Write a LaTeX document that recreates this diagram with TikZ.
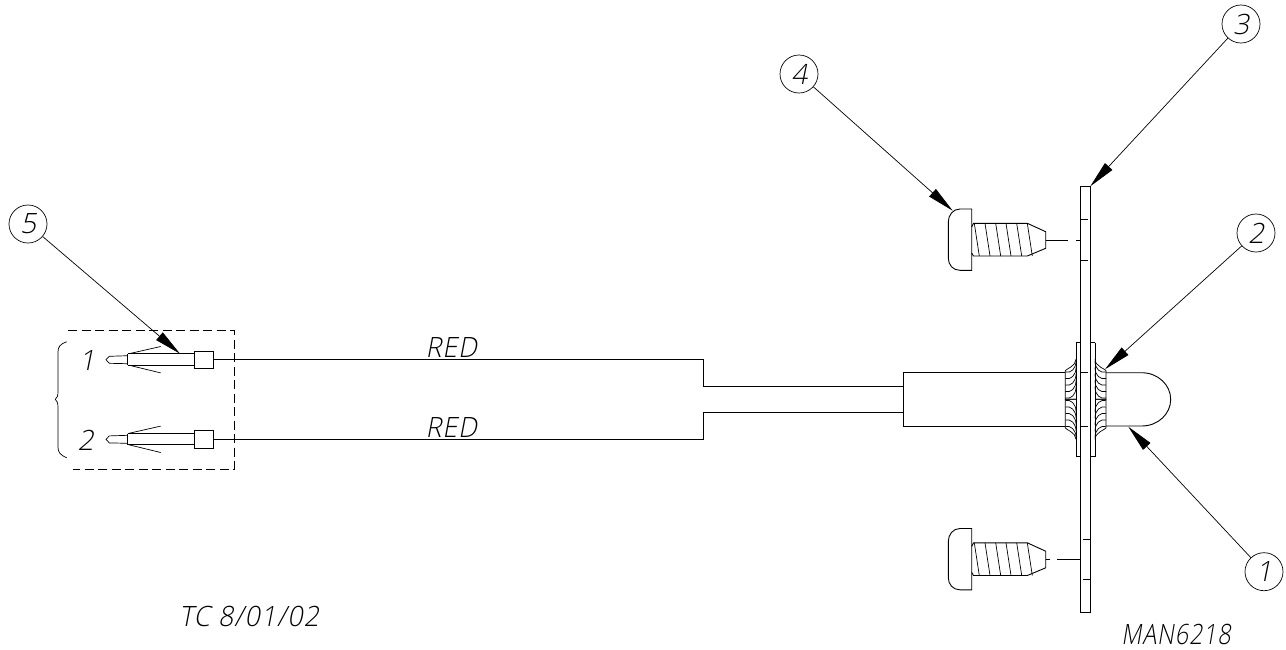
\documentclass[tikz,border=0pt]{standalone}
\usepackage{graphicx}
\usepackage{fontspec}
\setmainfont[FakeSlant=0.2,LetterSpace=4]{Open Sans Light}
\usetikzlibrary{arrows.meta}
\tikzset{
  x=1pt,y=-1pt,
  ln/.style={line width=0.9pt,black},
  fine/.style={line width=0.7pt,black},
  dashbox/.style={line width=0.8pt,black,dash pattern=on 9pt off 4.5pt},
  lead/.style={line width=0.7pt,black,-{Triangle[length=27pt,width=10pt]}},
  bubble/.style={circle,draw=black,line width=0.7pt,minimum size=38pt,inner sep=0pt,font=\fontsize{28}{28}\selectfont},
  lbl/.style={inner sep=0pt,font=\fontsize{28}{28}\selectfont},
}
\newcommand{\screwpart}[1]{%
\begin{scope}[shift={(0,#1)}]
\draw[ln] (971.7,-31) -- (960,-31) .. controls (953,-31) and (948.3,-25) .. (948.3,-18) -- (948.3,18) .. controls (948.3,25) and (953,30.3) .. (960,30.3) -- (971.7,30.3) -- cycle;
\draw[ln] (971.7,-13) -- (973.5,-16.7) -- (1027.3,-16.7) -- (1045.7,-8.3) -- (1045.7,8.3) -- (1027.3,16) -- (973.5,16) -- (971.7,13);
\foreach \xx in {974.3,985,995.7,1006,1016.7,1027.3}{\draw[fine] (\xx,-16.7) -- (\xx+5,16);}
\end{scope}}
\newcommand{\pinpart}[1]{%
\begin{scope}[shift={(0,#1)}]
\draw[fine] (127.7,-4) -- (109.3,-3.4) -- (106,0) -- (109.3,3.6) -- (127.7,4);
\draw[ln] (127.7,-5.5) -- (127.7,5.5) (127.7,-6) -- (194.3,-6) (127.7,5.5) -- (194.3,5.5);
\draw[fine] (129,-6) -- (160.7,-13.2) (129,5.5) -- (160.7,13.2);
\draw[ln,fill=white] (194.3,-8.7) rectangle (213.7,8.7);
\end{scope}}
% one half of a grommet: #1 outer x, #2 flange x, #3 vertical sign from the centre line
\newcommand{\grommet}[3]{%
\begin{scope}[shift={(0,399.3)},yscale=#3]
\draw[fine] (#2,-40) .. controls ($(#2,-33)$) and ($(#1,-30)$) .. (#1,-28.6) -- (#1,0) -- (#2,0);
\foreach \yy in {-27.3,-20.8,-14.3,-7.8,-1.3}{%
  \draw[fine] (#1,\yy) .. controls ($(#1,\yy)!0.5!(#2,\yy)+(0,1.5)$) and ($(#2,\yy)+(0,-3)$) .. ($(#2,\yy)+(0,-11)$);}
\end{scope}}
\usetikzlibrary{calc}
\begin{document}
\begin{tikzpicture}
\useasboundingbox (0,0) rectangle (1286,649);
\node[bubble] (b1) at (1264,571.7) {1};
\node[bubble] (b2) at (1256,233) {2};
\node[bubble] (b3) at (1241,24) {3};
\node[bubble] (b4) at (799,74) {4};
\node[bubble] (b5) at (28,224) {5};
\coordinate (t1) at (1128.3,426.7);
\coordinate (t2) at (1105,369.3);
\coordinate (t3) at (1090.3,186.3);
\coordinate (t4) at (952.7,210.7);
\coordinate (t5) at (180,353.7);
% connector box and brace
\draw[dashbox] (68,330) -- (234,330) -- (234,469) -- (73,469);
\draw[fine] (66.7,341.7) .. controls (60,344) and (58,347) .. (58,352) -- (58,392) .. controls (58,396) and (57,398) .. (55.3,399.3) .. controls (57,401) and (58,403) .. (58,407) -- (58,447) .. controls (58,452) and (60,455) .. (66.7,457.7);
\draw[fine] (213.7,359.5) -- (703.3,359.5) -- (703.3,386) -- (903.7,386);
\draw[fine] (213.7,439.3) -- (703.3,439.3) -- (703.3,412.7) -- (903.7,412.7);
\pinpart{359.7}
\pinpart{439.3}
% housing
\draw[ln] (1065.3,372.7) -- (903.7,372.7) -- (903.7,426) -- (1065.3,426);
\draw[fine] (1080.3,372.7) -- (1088,372.7) (1080.3,426) -- (1088,426);
\draw[ln] (1106,372.7) -- (1141.7,372.7) .. controls (1158,372.7) and (1170.7,385) .. (1170.7,399.3) .. controls (1170.7,414) and (1158,426) .. (1141.7,426) -- (1106,426);
% panel and flanges
\draw[ln] (1080.3,186.3) rectangle (1090.8,612.7);
\draw[ln] (1076,342.7) -- (1076,456.7) -- (1080.3,456.7) (1076,342.7) -- (1080.3,342.7);
\draw[ln] (1095,342.7) -- (1095,456.7) -- (1090.8,456.7) (1095,342.7) -- (1090.8,342.7);
\grommet{1065.3}{1076}{1}
\grommet{1065.3}{1076}{-1}
\grommet{1106}{1095}{1}
\grommet{1106}{1095}{-1}
\draw[fine] (1080.3,219.7) -- (1087.7,219.7) (1080.3,260) -- (1087.7,260);
\draw[fine] (1082.7,539.3) -- (1090.3,539.3) (1082.7,579.7) -- (1090.3,579.7);
% screws
\screwpart{240}
\screwpart{559.5}
\draw[fine] (1045.7,240) -- (1067.7,240) (1076,240) -- (1080.3,240);
\draw[fine] (1045.7,559.5) -- (1050,559.5) (1057,559.5) -- (1080.3,559.5);
% leaders
\draw[lead] (b1) -- (t1);
\draw[lead] (b2) -- (t2);
\draw[lead] (b3) -- (t3);
\draw[lead] (b4) -- (t4);
\draw[lead] (b5) -- (t5);
% text
\node[lbl] (tc) at (249,616) {\scalebox{.95}[1]{TC 8/01/02}};
\node[lbl] (man) at (1176,634) {\scalebox{.83}[1]{MAN6218}};
\node[lbl] (red1) at (451.3,347) {\scalebox{.95}[1]{RED}};
\node[lbl] (red2) at (451.3,427) {\scalebox{.95}[1]{RED}};
\node[lbl] (n1) at (87,360) {1};
\node[lbl] (n2) at (85.5,440) {2};
\end{tikzpicture}
\end{document}
